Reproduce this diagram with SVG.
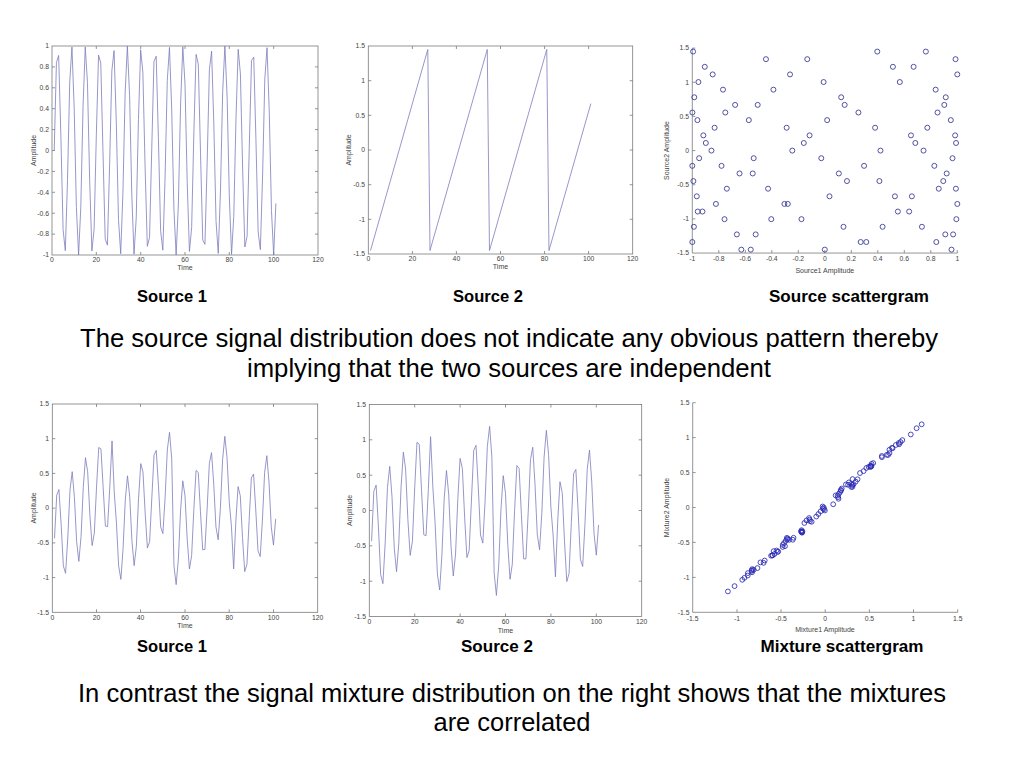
<svg xmlns="http://www.w3.org/2000/svg" width="1024" height="768" viewBox="0 0 1024 768">
<style>
.ax{fill:none;stroke:#7a7a7a;stroke-width:0.8}
.tk{font-family:"Liberation Sans",Arial,sans-serif;font-size:6.8px;fill:#444}
.tr{text-anchor:end}
.tm{text-anchor:middle}
.lb{font-family:"Liberation Sans",Arial,sans-serif;font-size:7px;fill:#444;text-anchor:middle}
.sig{fill:none;stroke:#7c7cbc;stroke-width:0.8;vector-effect:non-scaling-stroke;stroke-linejoin:round}
.cap{font-family:"Liberation Sans",Arial,sans-serif;font-weight:bold;font-size:16.5px;text-anchor:middle;fill:#000}
.big{font-family:"Liberation Sans",Arial,sans-serif;font-size:25.6px;text-anchor:middle;fill:#000}
.o1{fill:none;stroke:#353590;stroke-width:0.85}
.o2{fill:none;stroke:#2a2ab4;stroke-width:0.85}
</style>
<defs>
<circle id="c1" class="o1" r="2.5" transform="scale(0.007547 0.014641)"/>
<circle id="c2" class="o2" r="2.4" transform="scale(0.011321 0.014312)"/>
</defs>
<rect width="1024" height="768" fill="#fff"/>

<g id="plot-source1-top">
<rect class="ax" x="52" y="46" width="266" height="209"/>
<path class="ax" d="M96.3 255v-3M140.7 255v-3M185 255v-3M229.3 255v-3M273.7 255v-3M96.3 46v3M140.7 46v3M185 46v3M229.3 46v3M273.7 46v3M52 66.9h3M52 87.8h3M52 108.7h3M52 129.6h3M52 150.5h3M52 171.4h3M52 192.3h3M52 213.2h3M52 234.1h3M318 66.9h-3M318 87.8h-3M318 108.7h-3M318 129.6h-3M318 150.5h-3M318 171.4h-3M318 192.3h-3M318 213.2h-3M318 234.1h-3"/>
<g class="tk tr">
<text x="49" y="48.3">1</text><text x="49" y="69.2">0.8</text><text x="49" y="90.1">0.6</text><text x="49" y="111">0.4</text><text x="49" y="131.9">0.2</text><text x="49" y="152.8">0</text><text x="49" y="173.7">-0.2</text><text x="49" y="194.6">-0.4</text><text x="49" y="215.5">-0.6</text><text x="49" y="236.4">-0.8</text><text x="49" y="257.3">-1</text>
</g>
<g class="tk tm">
<text x="52" y="262">0</text><text x="96.3" y="262">20</text><text x="140.7" y="262">40</text><text x="185" y="262">60</text><text x="229.3" y="262">80</text><text x="273.7" y="262">100</text><text x="318" y="262">120</text>
</g>
<text class="lb" x="185" y="270">Time</text>
<text class="lb" transform="translate(36 150.5) rotate(-90)">Amplitude</text>
<polyline class="sig" transform="matrix(2.2167 0 0 -104.5 52 150.5)" points="1,0 2,.8415 3,.9093 4,.1411 5,-.7568 6,-.9589 7,-.2794 8,.657 9,.9894 10,.4121 11,-.544 12,-1 13,-.5366 14,.4202 15,.9906 16,.6503 17,-.2879 18,-.9614 19,-.751 20,.1499 21,.9129 22,.8367 23,-.0089 24,-.8462 25,-.9056 26,-.1324 27,.7626 28,.9564 29,.2709 30,-.6636 31,-.988 32,-.404 33,.5514 34,1 35,.5291 36,-.4282 37,-.9918 38,-.6435 39,.2964 40,.9638 41,.7451 42,-.1586 43,-.9165 44,-.8318 45,.0177 46,.8509 47,.9018 48,.1236 49,-.7683 50,-.9538 51,-.2624 52,.6702 53,.9866 54,.3959 55,-.5588 56,-.9998 57,-.5216 58,.4361 59,.9929 60,.6367 61,-.3048 62,-.9661 63,-.7392 64,.1674 65,.92 66,.8268 67,-.0265 68,-.8555 69,-.8979 70,-.1149 71,.7739 72,.9511 73,.2538 74,-.6768 75,-.9851 76,-.3878 77,.5661 78,.9998 79,.514 80,-.4441 81,-.9939 82,-.6299 83,.3132 84,.9684 85,.7331 86,-.1761 87,-.9234 88,-.8218 89,.0354 90,.8601 91,.894 92,.1059 93,-.7795 94,-.9483 95,-.2453 96,.6833 97,.9836 98,.3796 99,-.5734 100,-.9992 101,-.5064"/>
</g>

<g id="plot-source2-top">
<rect class="ax" x="368.3" y="46" width="264.4" height="208"/>
<path class="ax" d="M412.4 254v-3M456.4 254v-3M500.5 254v-3M544.6 254v-3M588.6 254v-3M412.4 46v3M456.4 46v3M500.5 46v3M544.6 46v3M588.6 46v3M368.3 80.7h3M368.3 115.3h3M368.3 150h3M368.3 184.7h3M368.3 219.3h3M632.7 80.7h-3M632.7 115.3h-3M632.7 150h-3M632.7 184.7h-3M632.7 219.3h-3"/>
<g class="tk tr">
<text x="365" y="48.3">1.5</text><text x="365" y="83">1</text><text x="365" y="117.6">0.5</text><text x="365" y="152.3">0</text><text x="365" y="187">-0.5</text><text x="365" y="221.6">-1</text><text x="365" y="256.3">-1.5</text>
</g>
<g class="tk tm">
<text x="368.3" y="261">0</text><text x="412.4" y="261">20</text><text x="456.4" y="261">40</text><text x="500.5" y="261">60</text><text x="544.6" y="261">80</text><text x="588.6" y="261">100</text><text x="632.7" y="261">120</text>
</g>
<text class="lb" x="500.5" y="269">Time</text>
<text class="lb" transform="translate(351 150) rotate(-90)">Amplitude</text>
<polyline class="sig" transform="matrix(2.2033 0 0 -69.33 368.3 150)" points="1,-1.45 27,1.45 28,-1.45 54,1.45 55,-1.45 81,1.45 82,-1.45 101,.6692"/>
</g>

<g id="plot-source-scatter">
<path class="ax" d="M692.3 48.15V253.05H957.3"/>
<path class="ax" d="M718.8 253.05v-3M745.3 253.05v-3M771.8 253.05v-3M798.3 253.05v-3M824.8 253.05v-3M851.3 253.05v-3M877.8 253.05v-3M904.3 253.05v-3M930.8 253.05v-3M957.3 253.05v-3M692.3 48.15h3M692.3 82.3h3M692.3 116.45h3M692.3 150.6h3M692.3 184.75h3M692.3 218.9h3"/>
<g class="tk tr">
<text x="689" y="50.4">1.5</text><text x="689" y="84.6">1</text><text x="689" y="118.7">0.5</text><text x="689" y="152.9">0</text><text x="689" y="187">-0.5</text><text x="689" y="221.2">-1</text><text x="689" y="255.3">-1.5</text>
</g>
<g class="tk tm">
<text x="692.3" y="261">-1</text><text x="718.8" y="261">-0.8</text><text x="745.3" y="261">-0.6</text><text x="771.8" y="261">-0.4</text><text x="798.3" y="261">-0.2</text><text x="824.8" y="261">0</text><text x="851.3" y="261">0.2</text><text x="877.8" y="261">0.4</text><text x="904.3" y="261">0.6</text><text x="930.8" y="261">0.8</text><text x="957.3" y="261">1</text>
</g>
<text class="lb" x="824.8" y="273">Source1 Amplitude</text>
<text class="lb" transform="translate(669 150.6) rotate(-90)">Source2 Amplitude</text>
<g transform="matrix(132.5 0 0 -68.3 824.8 150.6)">
<use href="#c1" x="0" y="-1.45"/><use href="#c1" x=".8415" y="-1.3385"/><use href="#c1" x=".9093" y="-1.2269"/><use href="#c1" x=".1411" y="-1.1154"/><use href="#c1" x="-.7568" y="-1.0038"/><use href="#c1" x="-.9589" y="-.8923"/><use href="#c1" x="-.2794" y="-.7808"/><use href="#c1" x=".657" y="-.6692"/><use href="#c1" x=".9894" y="-.5577"/><use href="#c1" x=".4121" y="-.4462"/>
<use href="#c1" x="-.544" y="-.3346"/><use href="#c1" x="-1" y="-.2231"/><use href="#c1" x="-.5366" y="-.1115"/><use href="#c1" x=".4202" y="0"/><use href="#c1" x=".9906" y=".1115"/><use href="#c1" x=".6503" y=".2231"/><use href="#c1" x="-.2879" y=".3346"/><use href="#c1" x="-.9614" y=".4462"/><use href="#c1" x="-.751" y=".5577"/><use href="#c1" x=".1499" y=".6692"/>
<use href="#c1" x=".9129" y=".7808"/><use href="#c1" x=".8367" y=".8923"/><use href="#c1" x="-.0089" y="1.0038"/><use href="#c1" x="-.8462" y="1.1154"/><use href="#c1" x="-.9056" y="1.2269"/><use href="#c1" x="-.1324" y="1.3385"/><use href="#c1" x=".7626" y="1.45"/><use href="#c1" x=".9564" y="-1.45"/><use href="#c1" x=".2709" y="-1.3385"/><use href="#c1" x="-.6636" y="-1.2269"/>
<use href="#c1" x="-.988" y="-1.1154"/><use href="#c1" x="-.404" y="-1.0038"/><use href="#c1" x=".5514" y="-.8923"/><use href="#c1" x="1" y="-.7808"/><use href="#c1" x=".5291" y="-.6692"/><use href="#c1" x="-.4282" y="-.5577"/><use href="#c1" x="-.9918" y="-.4462"/><use href="#c1" x="-.6435" y="-.3346"/><use href="#c1" x=".2964" y="-.2231"/><use href="#c1" x=".9638" y="-.1115"/>
<use href="#c1" x=".7451" y="0"/><use href="#c1" x="-.1586" y=".1115"/><use href="#c1" x="-.9165" y=".2231"/><use href="#c1" x="-.8318" y=".3346"/><use href="#c1" x=".0177" y=".4462"/><use href="#c1" x=".8509" y=".5577"/><use href="#c1" x=".9018" y=".6692"/><use href="#c1" x=".1236" y=".7808"/><use href="#c1" x="-.7683" y=".8923"/><use href="#c1" x="-.9538" y="1.0038"/>
<use href="#c1" x="-.2624" y="1.1154"/><use href="#c1" x=".6702" y="1.2269"/><use href="#c1" x=".9866" y="1.3385"/><use href="#c1" x=".3959" y="1.45"/><use href="#c1" x="-.5588" y="-1.45"/><use href="#c1" x="-.9998" y="-1.3385"/><use href="#c1" x="-.5216" y="-1.2269"/><use href="#c1" x=".4361" y="-1.1154"/><use href="#c1" x=".9929" y="-1.0038"/><use href="#c1" x=".6367" y="-.8923"/>
<use href="#c1" x="-.3048" y="-.7808"/><use href="#c1" x="-.9661" y="-.6692"/><use href="#c1" x="-.7392" y="-.5577"/><use href="#c1" x=".1674" y="-.4462"/><use href="#c1" x=".92" y="-.3346"/><use href="#c1" x=".8268" y="-.2231"/><use href="#c1" x="-.0265" y="-.1115"/><use href="#c1" x="-.8555" y="0"/><use href="#c1" x="-.8979" y=".1115"/><use href="#c1" x="-.1149" y=".2231"/>
<use href="#c1" x=".7739" y=".3346"/><use href="#c1" x=".9511" y=".4462"/><use href="#c1" x=".2538" y=".5577"/><use href="#c1" x="-.6768" y=".6692"/><use href="#c1" x="-.9851" y=".7808"/><use href="#c1" x="-.3878" y=".8923"/><use href="#c1" x=".5661" y="1.0038"/><use href="#c1" x=".9998" y="1.1154"/><use href="#c1" x=".514" y="1.2269"/><use href="#c1" x="-.4441" y="1.3385"/>
<use href="#c1" x="-.9939" y="1.45"/><use href="#c1" x="-.6299" y="-1.45"/><use href="#c1" x=".3132" y="-1.3385"/><use href="#c1" x=".9684" y="-1.2269"/><use href="#c1" x=".7331" y="-1.1154"/><use href="#c1" x="-.1761" y="-1.0038"/><use href="#c1" x="-.9234" y="-.8923"/><use href="#c1" x="-.8218" y="-.7808"/><use href="#c1" x=".0354" y="-.6692"/><use href="#c1" x=".8601" y="-.5577"/>
<use href="#c1" x=".894" y="-.4462"/><use href="#c1" x=".1059" y="-.3346"/><use href="#c1" x="-.7795" y="-.2231"/><use href="#c1" x="-.9483" y="-.1115"/><use href="#c1" x="-.2453" y="0"/><use href="#c1" x=".6833" y=".1115"/><use href="#c1" x=".9836" y=".2231"/><use href="#c1" x=".3796" y=".3346"/><use href="#c1" x="-.5734" y=".4462"/><use href="#c1" x="-.9992" y=".5577"/>
<use href="#c1" x="-.5064" y=".6692"/>
</g>
</g>

<g id="caption-top">
<text class="cap" x="172" y="302" textLength="70" lengthAdjust="spacingAndGlyphs">Source 1</text>
<text class="cap" x="488" y="302" textLength="70" lengthAdjust="spacingAndGlyphs">Source 2</text>
<text class="cap" x="849" y="302" textLength="160" lengthAdjust="spacingAndGlyphs">Source scattergram</text>
<text class="big" x="509" y="347" textLength="858" lengthAdjust="spacingAndGlyphs">The source signal distribution does not indicate any obvious pattern thereby</text>
<text class="big" x="509" y="377" textLength="524" lengthAdjust="spacingAndGlyphs">implying that the two sources are independent</text>
</g>

<g id="plot-mixture1">
<rect class="ax" x="52.3" y="404" width="265.4" height="208.3"/>
<path class="ax" d="M96.5 612.3v-3M140.5 612.3v-3M185 612.3v-3M229.2 612.3v-3M273.5 612.3v-3M96.5 404v3M140.5 404v3M185 404v3M229.2 404v3M273.5 404v3M52.3 438.7h3M52.3 473.4h3M52.3 508.15h3M52.3 542.9h3M52.3 577.6h3M317.7 438.7h-3M317.7 473.4h-3M317.7 508.15h-3M317.7 542.9h-3M317.7 577.6h-3"/>
<g class="tk tr">
<text x="49" y="406.3">1.5</text><text x="49" y="441">1</text><text x="49" y="475.7">0.5</text><text x="49" y="510.4">0</text><text x="49" y="545.2">-0.5</text><text x="49" y="579.9">-1</text><text x="49" y="614.6">-1.5</text>
</g>
<g class="tk tm">
<text x="52.3" y="619.5">0</text><text x="96.5" y="619.5">20</text><text x="140.5" y="619.5">40</text><text x="185" y="619.5">60</text><text x="229.2" y="619.5">80</text><text x="273.5" y="619.5">100</text><text x="317.7" y="619.5">120</text>
</g>
<text class="lb" x="185" y="628">Time</text>
<text class="lb" transform="translate(36 508) rotate(-90)">Amplitude</text>
<polyline class="sig" transform="matrix(2.2117 0 0 -69.43 52.3 508.15)" points="1,-.435 2,.1876 3,.2684 4,-.2358 5,-.831 6,-.9389 7,-.4298 8,.2591 9,.5253 10,.1547 11,-.4812 12,-.7669 13,-.4091 14,.2941 15,.7269 16,.5221 17,-.1011 18,-.5392 19,-.3584 20,.3057 21,.8732 22,.8534 23,.295 24,-.2577 25,-.2658 26,.3088 27,.9688 28,.2345 29,-.2119 30,-.8326 31,-1.0262 32,-.584 33,.1183 34,.4658 35,.1696 36,-.467 37,-.8281 38,-.5509 39,.1406 40,.6412 41,.5216 42,-.0775 43,-.5747 44,-.4819 45,.1462 46,.7629 47,.8321 48,.3207 49,-.2701 50,-.3665 51,.1509 52,.8372 53,1.0921 54,.7121 55,-.8262 56,-1.1014 57,-.7332 58,-.0293 59,.3938 60,.178 61,-.4476 62,-.8771 63,-.6847 64,-.0166 65,.5436 66,.5119 67,-.0521 68,-.5989 69,-.595 70,-.0135 71,.6421 72,.7996 73,.345 74,-.273 75,-.4554 76,-.0038 77,.6975 78,1.0345 79,.7279 80,.0906 81,-.2607 82,-.8759 83,-.1823 84,.3098 85,.1786 86,-.4245 87,-.9141 88,-.8095 89,-.176 90,.4348 91,.492 92,-.0263 93,-.6126 94,-.6973 95,-.1717 96,.5118 97,.7554 98,.3661 99,-.2676 100,-.5321 101,-.1537"/>
</g>

<g id="plot-mixture2">
<rect class="ax" x="369.3" y="404.5" width="272.4" height="212"/>
<path class="ax" d="M414.7 616.5v-3M460.1 616.5v-3M505.5 616.5v-3M550.9 616.5v-3M596.3 616.5v-3M414.7 404.5v3M460.1 404.5v3M505.5 404.5v3M550.9 404.5v3M596.3 404.5v3M369.3 439.8h3M369.3 475.2h3M369.3 510.5h3M369.3 545.8h3M369.3 581.2h3M641.7 439.8h-3M641.7 475.2h-3M641.7 510.5h-3M641.7 545.8h-3M641.7 581.2h-3"/>
<g class="tk tr">
<text x="366" y="406.8">1.5</text><text x="366" y="442.1">1</text><text x="366" y="477.5">0.5</text><text x="366" y="512.8">0</text><text x="366" y="548.1">-0.5</text><text x="366" y="583.5">-1</text><text x="366" y="618.8">-1.5</text>
</g>
<g class="tk tm">
<text x="369.3" y="624">0</text><text x="414.7" y="624">20</text><text x="460.1" y="624">40</text><text x="505.5" y="624">60</text><text x="550.9" y="624">80</text><text x="596.3" y="624">100</text><text x="641.7" y="624">120</text>
</g>
<text class="lb" x="505.5" y="632.5">Time</text>
<text class="lb" transform="translate(352 510.5) rotate(-90)">Amplitude</text>
<polyline class="sig" transform="matrix(2.27 0 0 -70.67 369.3 510.5)" points="1,-.435 2,.2717 3,.3593 4,-.2217 5,-.9066 6,-1.0348 7,-.4577 8,.3248 9,.6242 10,.1959 11,-.5356 12,-.8669 13,-.4628 14,.3362 15,.826 16,.5871 17,-.1299 18,-.6353 19,-.4335 20,.3207 21,.9645 22,.9371 23,.2941 24,-.3424 25,-.3564 26,.2956 27,1.0451 28,.3301 29,-.1848 30,-.899 31,-1.125 32,-.6244 33,.1734 34,.5658 35,.2225 36,-.5099 37,-.9272 38,-.6152 39,.1702 40,.7375 41,.5961 42,-.0934 43,-.6663 44,-.565 45,.148 46,.848 47,.9222 48,.3331 49,-.3469 50,-.4618 51,.1247 52,.9043 53,1.1908 54,.7517 55,-.882 56,-1.2013 57,-.7854 58,.0143 59,.4931 60,.2417 61,-.478 62,-.9737 63,-.7587 64,.0001 65,.6356 66,.5945 67,-.0547 68,-.6844 69,-.6848 70,-.025 71,.7195 72,.8947 73,.3703 74,-.3406 75,-.5539 76,-.0425 77,.7541 78,1.1344 79,.7793 80,.0462 81,-.3601 82,-.9389 83,-.1509 84,.4066 85,.2519 86,-.4421 87,-1.0064 88,-.8916 89,-.1725 90,.5208 91,.5814 92,-.0157 93,-.6905 94,-.7921 95,-.1962 96,.5801 97,.8538 98,.4041 99,-.3249 100,-.6321 101,-.2043"/>
</g>

<g id="plot-mixture-scatter">
<path class="ax" d="M692.7 402.7V612.3H957.7"/>
<path class="ax" d="M737 612.3v-3M781 612.3v-3M825.2 612.3v-3M869.4 612.3v-3M913.5 612.3v-3M957.7 612.3v-3M692.7 402.7h3M692.7 437.6h3M692.7 472.6h3M692.7 507.5h3M692.7 542.4h3M692.7 577.4h3"/>
<g class="tk tr">
<text x="689.5" y="405">1.5</text><text x="689.5" y="439.9">1</text><text x="689.5" y="474.9">0.5</text><text x="689.5" y="509.8">0</text><text x="689.5" y="544.7">-0.5</text><text x="689.5" y="579.7">-1</text><text x="689.5" y="614.6">-1.5</text>
</g>
<g class="tk tm">
<text x="692.7" y="620.5">-1.5</text><text x="737" y="620.5">-1</text><text x="781" y="620.5">-0.5</text><text x="825.2" y="620.5">0</text><text x="869.4" y="620.5">0.5</text><text x="913.5" y="620.5">1</text><text x="957.7" y="620.5">1.5</text>
</g>
<text class="lb" x="825" y="632">Mixture1 Amplitude</text>
<text class="lb" transform="translate(669 507.5) rotate(-90)">Mixture2 Amplitude</text>
<g transform="matrix(88.33 0 0 -69.87 825.2 507.5)">
<use href="#c2" x="-.435" y="-.435"/><use href="#c2" x=".1876" y=".2717"/><use href="#c2" x=".2684" y=".3593"/><use href="#c2" x="-.2358" y="-.2217"/><use href="#c2" x="-.831" y="-.9066"/><use href="#c2" x="-.9389" y="-1.0348"/><use href="#c2" x="-.4298" y="-.4577"/><use href="#c2" x=".2591" y=".3248"/><use href="#c2" x=".5253" y=".6242"/><use href="#c2" x=".1547" y=".1959"/>
<use href="#c2" x="-.4812" y="-.5356"/><use href="#c2" x="-.7669" y="-.8669"/><use href="#c2" x="-.4091" y="-.4628"/><use href="#c2" x=".2941" y=".3362"/><use href="#c2" x=".7269" y=".826"/><use href="#c2" x=".5221" y=".5871"/><use href="#c2" x="-.1011" y="-.1299"/><use href="#c2" x="-.5392" y="-.6353"/><use href="#c2" x="-.3584" y="-.4335"/><use href="#c2" x=".3057" y=".3207"/>
<use href="#c2" x=".8732" y=".9645"/><use href="#c2" x=".8534" y=".9371"/><use href="#c2" x=".295" y=".2941"/><use href="#c2" x="-.2577" y="-.3424"/><use href="#c2" x="-.2658" y="-.3564"/><use href="#c2" x=".3088" y=".2956"/><use href="#c2" x=".9688" y="1.0451"/><use href="#c2" x=".2345" y=".3301"/><use href="#c2" x="-.2119" y="-.1848"/><use href="#c2" x="-.8326" y="-.899"/>
<use href="#c2" x="-1.0262" y="-1.125"/><use href="#c2" x="-.584" y="-.6244"/><use href="#c2" x=".1183" y=".1734"/><use href="#c2" x=".4658" y=".5658"/><use href="#c2" x=".1696" y=".2225"/><use href="#c2" x="-.467" y="-.5099"/><use href="#c2" x="-.8281" y="-.9272"/><use href="#c2" x="-.5509" y="-.6152"/><use href="#c2" x=".1406" y=".1702"/><use href="#c2" x=".6412" y=".7375"/>
<use href="#c2" x=".5216" y=".5961"/><use href="#c2" x="-.0775" y="-.0934"/><use href="#c2" x="-.5747" y="-.6663"/><use href="#c2" x="-.4819" y="-.565"/><use href="#c2" x=".1462" y=".148"/><use href="#c2" x=".7629" y=".848"/><use href="#c2" x=".8321" y=".9222"/><use href="#c2" x=".3207" y=".3331"/><use href="#c2" x="-.2701" y="-.3469"/><use href="#c2" x="-.3665" y="-.4618"/>
<use href="#c2" x=".1509" y=".1247"/><use href="#c2" x=".8372" y=".9043"/><use href="#c2" x="1.0921" y="1.1908"/><use href="#c2" x=".7121" y=".7517"/><use href="#c2" x="-.8262" y="-.882"/><use href="#c2" x="-1.1014" y="-1.2013"/><use href="#c2" x="-.7332" y="-.7854"/><use href="#c2" x="-.0293" y=".0143"/><use href="#c2" x=".3938" y=".4931"/><use href="#c2" x=".178" y=".2417"/>
<use href="#c2" x="-.4476" y="-.478"/><use href="#c2" x="-.8771" y="-.9737"/><use href="#c2" x="-.6847" y="-.7587"/><use href="#c2" x="-.0166" y=".0001"/><use href="#c2" x=".5436" y=".6356"/><use href="#c2" x=".5119" y=".5945"/><use href="#c2" x="-.0521" y="-.0547"/><use href="#c2" x="-.5989" y="-.6844"/><use href="#c2" x="-.595" y="-.6848"/><use href="#c2" x="-.0135" y="-.025"/>
<use href="#c2" x=".6421" y=".7195"/><use href="#c2" x=".7996" y=".8947"/><use href="#c2" x=".345" y=".3703"/><use href="#c2" x="-.273" y="-.3406"/><use href="#c2" x="-.4554" y="-.5539"/><use href="#c2" x="-.0038" y="-.0425"/><use href="#c2" x=".6975" y=".7541"/><use href="#c2" x="1.0345" y="1.1344"/><use href="#c2" x=".7279" y=".7793"/><use href="#c2" x=".0906" y=".0462"/>
<use href="#c2" x="-.2607" y="-.3601"/><use href="#c2" x="-.8759" y="-.9389"/><use href="#c2" x="-.1823" y="-.1509"/><use href="#c2" x=".3098" y=".4066"/><use href="#c2" x=".1786" y=".2519"/><use href="#c2" x="-.4245" y="-.4421"/><use href="#c2" x="-.9141" y="-1.0064"/><use href="#c2" x="-.8095" y="-.8916"/><use href="#c2" x="-.176" y="-.1725"/><use href="#c2" x=".4348" y=".5208"/>
<use href="#c2" x=".492" y=".5814"/><use href="#c2" x="-.0263" y="-.0157"/><use href="#c2" x="-.6126" y="-.6905"/><use href="#c2" x="-.6973" y="-.7921"/><use href="#c2" x="-.1717" y="-.1962"/><use href="#c2" x=".5118" y=".5801"/><use href="#c2" x=".7554" y=".8538"/><use href="#c2" x=".3661" y=".4041"/><use href="#c2" x="-.2676" y="-.3249"/><use href="#c2" x="-.5321" y="-.6321"/>
<use href="#c2" x="-.1537" y="-.2043"/>
</g>
</g>

<g id="caption-bottom">
<text class="cap" x="172" y="652" textLength="70" lengthAdjust="spacingAndGlyphs">Source 1</text>
<text class="cap" x="497" y="652" textLength="72" lengthAdjust="spacingAndGlyphs">Source 2</text>
<text class="cap" x="842" y="652" textLength="163" lengthAdjust="spacingAndGlyphs">Mixture scattergram</text>
<text class="big" x="512" y="702" textLength="868" lengthAdjust="spacingAndGlyphs">In contrast the signal mixture distribution on the right shows that the mixtures</text>
<text class="big" x="512" y="731" textLength="157" lengthAdjust="spacingAndGlyphs">are correlated</text>
</g>
</svg>
